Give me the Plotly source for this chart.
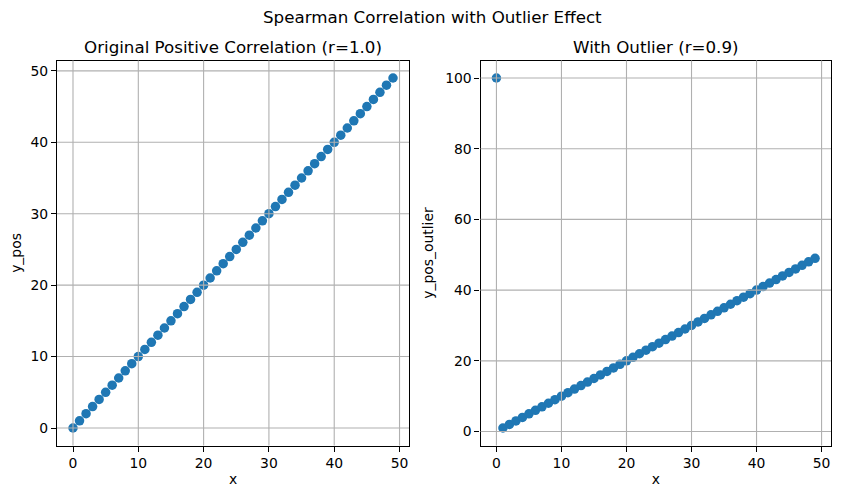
import plotly.graph_objects as go

x = list(range(50))
y_pos = list(range(50))
y_pos_outlier = [100] + list(range(1, 50))

suptitle = "Spearman Correlation with Outlier Effect"
title_left = "Original Positive Correlation (r=1.0)"
title_right = "With Outlier (r=0.9)"
xticks = [0, 10, 20, 30, 40, 50]
yticks_left = [0, 10, 20, 30, 40, 50]
yticks_right = [0, 20, 40, 60, 80, 100]

# the page places the figure 8px from the top-left corner of the window
OFF = 8
W, H = 842 - OFF, 498 - OFF
blue = "#1f77b4"
font = "DejaVu Sans"

def px_x(p):
    return (p - OFF) / W

def px_y(p):
    return 1 - (p - OFF) / H

fig = go.Figure()
dl = [px_x(57), px_x(409)]
dr = [px_x(480.5), px_x(831)]
dy = [px_y(445.5), px_y(60.5)]

mk = dict(color=blue, size=9.5, line=dict(width=0))
fig.add_trace(go.Scatter(x=x, y=y_pos, mode="markers", marker=mk, xaxis="x", yaxis="y", showlegend=False))
fig.add_trace(go.Scatter(x=x, y=y_pos_outlier, mode="markers", marker=mk, xaxis="x2", yaxis="y2", showlegend=False))

ax_common = dict(showline=True, linecolor="black", linewidth=1.1, mirror=True,
                 ticks="outside", ticklen=5, tickwidth=1.1, tickcolor="black", showgrid=False,
                 zeroline=False, automargin=False,
                 tickfont=dict(size=13.9, color="black", family=font),
                 title_font=dict(size=13.9, color="black", family=font), layer="above traces")

def rng(lo, hi):
    m = (hi - lo) * 0.05
    return [lo - m, hi + m]

fig.update_layout(
    width=W, height=H, margin=dict(l=0, r=0, t=0, b=0),
    plot_bgcolor="white", paper_bgcolor="white",
    font=dict(family=font, color="black"),
    xaxis=dict(domain=dl, range=rng(0, 49), tickvals=xticks, anchor="y",
               title=dict(text="x", standoff=4), **ax_common),
    yaxis=dict(domain=dy, range=rng(0, 49), tickvals=yticks_left, anchor="x",
               title=dict(text="y_pos", standoff=8), **ax_common),
    xaxis2=dict(domain=dr, range=rng(0, 49), tickvals=xticks, anchor="y2",
                title=dict(text="x", standoff=4), **ax_common),
    yaxis2=dict(domain=dy, range=rng(1, 100), tickvals=yticks_right, anchor="x2",
                title=dict(text="y_pos_outlier", standoff=8), **ax_common),
)

# gridlines drawn above markers (as in the reference)
grid = dict(color="#b0b0b0", width=1.1)
shapes = []
for t in xticks:
    shapes.append(dict(type="line", xref="x", yref="y domain", x0=t, x1=t, y0=0, y1=1, line=grid, layer="above"))
    shapes.append(dict(type="line", xref="x2", yref="y2 domain", x0=t, x1=t, y0=0, y1=1, line=grid, layer="above"))
for t in yticks_left:
    shapes.append(dict(type="line", xref="x domain", yref="y", x0=0, x1=1, y0=t, y1=t, line=grid, layer="above"))
for t in yticks_right:
    shapes.append(dict(type="line", xref="x2 domain", yref="y2", x0=0, x1=1, y0=t, y1=t, line=grid, layer="above"))
fig.update_layout(shapes=shapes)

tf = dict(size=16.7, family=font, color="black")
ann = []
ann.append(dict(text=suptitle, x=px_x(432.5), y=px_y(17), xref="paper", yref="paper", showarrow=False,
                xanchor="center", yanchor="middle", font=tf))
ann.append(dict(text=title_left, x=(dl[0] + dl[1]) / 2, y=px_y(47), xref="paper", yref="paper", showarrow=False,
                xanchor="center", yanchor="middle", font=tf))
ann.append(dict(text=title_right, x=(dr[0] + dr[1]) / 2, y=px_y(47), xref="paper", yref="paper", showarrow=False,
                xanchor="center", yanchor="middle", font=tf))
fig.update_layout(annotations=ann)

fig.write_html("out.html")
